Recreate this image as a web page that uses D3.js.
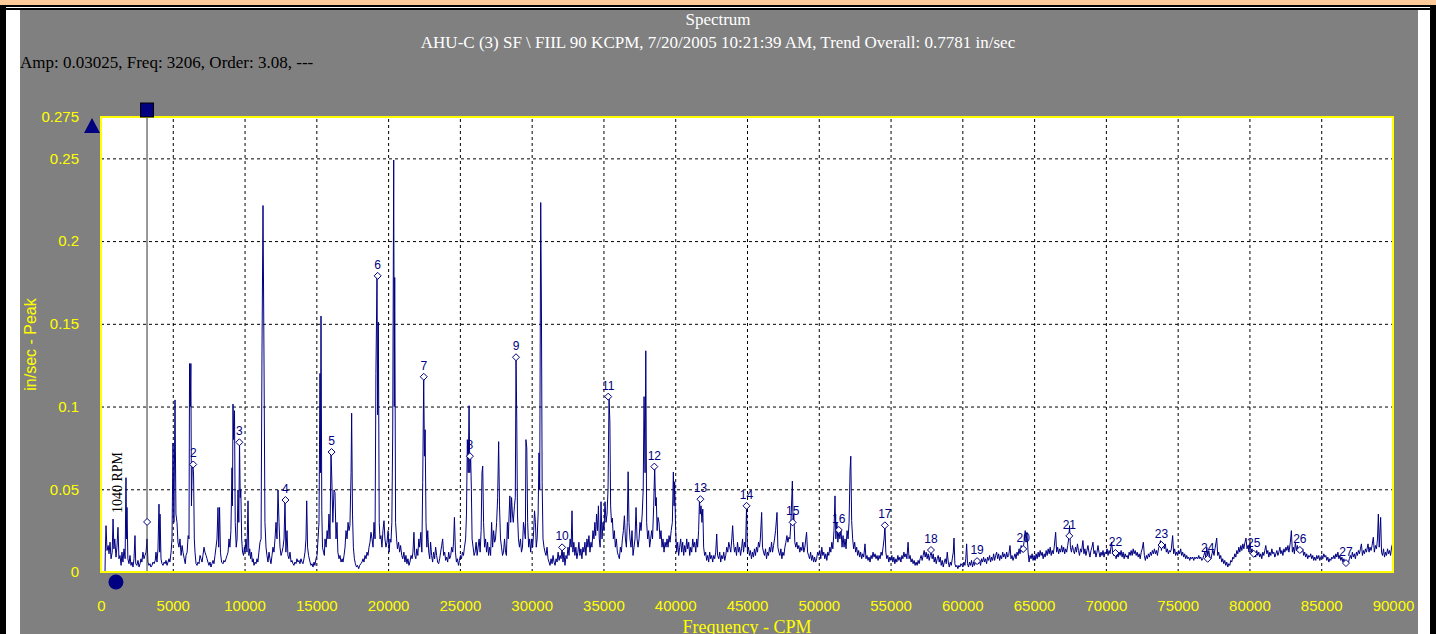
<!DOCTYPE html>
<html>
<head>
<meta charset="utf-8">
<script src="https://cdn.jsdelivr.net/npm/d3@7"></script>
<style>
  html, body { margin: 0; padding: 0; background: #fff; overflow: hidden; }
</style>
</head>
<body>
<div id="chart"></div>
<script>
const width = 1436;
const height = 634;
const plot = { left: 101, right: 1393, top: 117, bottom: 572 };

const sans = "'Liberation Sans', Arial, sans-serif";
const serif = "'Liberation Serif', 'Times New Roman', serif";
const navy = "#000080";
const yellow = "#ffff00";

// Texts
const titleText = "Spectrum";
const subtitleText = "AHU-C (3) SF \\ FIIL 90 KCPM, 7/20/2005 10:21:39 AM, Trend Overall: 0.7781 in/sec";
const cursorText = "Amp: 0.03025, Freq: 3206, Order: 3.08, ---";
const xTitle = "Frequency - CPM";
const yTitle = "in/sec - Peak";
const runSpeed = 1040; // CPM
const runSpeedLabel = "1040 RPM";
const cursorFreq = 3206;
const harmonicStep = 3212;

// Axes
const xTickValues = [0, 5000, 10000, 15000, 20000, 25000, 30000, 35000, 40000, 45000,
  50000, 55000, 60000, 65000, 70000, 75000, 80000, 85000, 90000];
const yTickValues = [0, 0.05, 0.1, 0.15, 0.2, 0.25, 0.275];
const yGridValues = [0.05, 0.1, 0.15, 0.2, 0.25];

// Amplitude at each harmonic cursor (order 1..27)
const harmonicAmps = [0.03025, 0.065, 0.0784, 0.0435, 0.0725, 0.179, 0.118, 0.070, 0.1298,
  0.0149, 0.106, 0.0637, 0.044, 0.040, 0.030, 0.0254, 0.0282, 0.0133, 0.0066, 0.0139,
  0.0218, 0.0115, 0.0163, 0.008, 0.011, 0.0133, 0.0054];

// Spectrum [CPM, in/sec]
const spec0to10k = [[0,0],[280,0],[300,0.012],[350,0.028],[420,0.013],[500,0.016],[560,0.011],[630,0.018],[700,0.008],[780,0.012],[840,0.032],[900,0.014],[960,0.02],[1045,0.009],[1110,0.015],[1184,0.027],[1250,0.008],[1324,0.01],[1400,0.004],[1460,0.012],[1530,0.006],[1600,0.014],[1680,0.008],[1741,0.057],[1780,0.02],[1811,0.039],[1870,0.008],[1950,0.005],[2020,0.01],[2090,0.004],[2160,0.006],[2229,0.003],[2300,0.008],[2368,0.022],[2420,0.005],[2500,0.004],[2577,0.007],[2650,0.003],[2720,0.005],[2786,0.008],[2850,0.006],[2920,0.012],[2995,0.008],[3060,0.01],[3140,0.012],[3206,0.02],[3270,0.006],[3340,0.004],[3413,0.005],[3480,0.003],[3550,0.004],[3622,0.006],[3700,0.005],[3780,0.007],[3831,0.012],[3900,0.006],[3970,0.014],[4040,0.041],[4090,0.012],[4110,0.035],[4180,0.008],[4250,0.005],[4319,0.004],[4400,0.006],[4470,0.005],[4528,0.007],[4600,0.004],[4670,0.006],[4737,0.008],[4800,0.006],[4880,0.012],[4946,0.02],
  [5015,0.078],[5080,0.03],[5155,0.104],[5220,0.035],[5294,0.03],[5360,0.018],[5430,0.015],[5503,0.02],[5580,0.01],[5650,0.016],[5712,0.012],[5800,0.008],[5870,0.005],[5921,0.01],[6000,0.012],[6070,0.022],[6130,0.02],[6170,0.126],[6220,0.1],[6260,0.126],[6300,0.04],[6350,0.062],[6409,0.065],[6450,0.058],[6500,0.02],[6548,0.012],[6620,0.005],[6690,0.004],[6757,0.006],[6830,0.005],[6900,0.01],[6966,0.008],[7040,0.006],[7100,0.01],[7175,0.015],[7240,0.012],[7320,0.01],[7384,0.008],[7450,0.006],[7520,0.004],[7593,0.006],[7660,0.003],[7730,0.005],[7802,0.007],[7870,0.005],[7940,0.01],[8011,0.015],[8080,0.02],[8150,0.039],[8200,0.015],[8260,0.039],[8320,0.012],[8400,0.006],[8499,0.005],[8560,0.007],[8630,0.006],[8708,0.008],[8780,0.01],[8850,0.012],[8916,0.02],[8980,0.015],[9050,0.025],[9125,0.063],[9160,0.04],[9195,0.1015],[9240,0.08],[9300,0.0975],[9350,0.03],[9420,0.015],[9480,0.02],[9543,0.0496],[9600,0.03],[9650,0.0786],[9700,0.045],[9740,0.0496],[9800,0.02],[9860,0.012],[9930,0.01],[9990,0.015]];

const spec10to20k = [[10031,0.012],[10100,0.02],[10170,0.012],[10240,0.043],[10300,0.01],[10360,0.014],[10420,0.008],[10480,0.012],[10540,0.006],[10600,0.008],[10658,0.004],[10730,0.006],[10800,0.005],[10867,0.008],[10930,0.006],[11000,0.012],[11076,0.018],[11150,0.02],[11215,0.133],[11285,0.2215],[11354,0.13],[11420,0.03],[11494,0.015],[11560,0.01],[11630,0.006],[11703,0.012],[11770,0.008],[11840,0.005],[11912,0.01],[11980,0.015],[12050,0.012],[12121,0.02],[12190,0.03],[12260,0.02],[12330,0.0496],[12400,0.03],[12469,0.015],[12540,0.01],[12608,0.012],[12680,0.015],[12750,0.02],[12817,0.0435],[12880,0.012],[12957,0.025],[13020,0.01],[13090,0.008],[13166,0.012],[13240,0.006],[13300,0.007],[13375,0.005],[13440,0.004],[13510,0.006],[13584,0.005],[13650,0.008],[13720,0.006],[13793,0.007],[13860,0.005],[13930,0.008],[14002,0.006],[14070,0.005],[14140,0.008],[14211,0.012],[14280,0.02],[14330,0.043],[14390,0.015],[14460,0.01],[14559,0.006],[14630,0.004],[14700,0.005],[14768,0.003],[14840,0.006],[14900,0.004],[14977,0.008],
  [15050,0.01],[15120,0.02],[15186,0.03],[15256,0.12],[15290,0.06],[15326,0.1547],[15380,0.037],[15430,0.015],[15500,0.012],[15560,0.01],[15604,0.02],[15680,0.015],[15750,0.025],[15813,0.02],[15880,0.035],[15950,0.02],[16022,0.0725],[16080,0.0556],[16150,0.03],[16230,0.0496],[16301,0.048],[16370,0.02],[16440,0.03],[16500,0.012],[16580,0.008],[16649,0.01],[16720,0.006],[16800,0.008],[16858,0.006],[16930,0.01],[17000,0.015],[17067,0.025],[17140,0.02],[17210,0.03],[17276,0.025],[17340,0.028],[17420,0.06],[17460,0.096],[17520,0.035],[17580,0.015],[17650,0.008],[17720,0.005],[17800,0.003],[17870,0.004],[17950,0.002],[18020,0.004],[18100,0.005],[18181,0.006],[18250,0.008],[18320,0.006],[18390,0.01],[18460,0.008],[18530,0.012],[18599,0.01],[18670,0.015],[18740,0.018],[18808,0.024],[18880,0.02],[18950,0.015],[19017,0.03],[19090,0.02],[19150,0.12],[19226,0.179],[19270,0.095],[19320,0.151],[19380,0.03],[19435,0.02],[19500,0.022],[19570,0.015],[19640,0.025],[19714,0.031],[19780,0.02],[19850,0.015],[19923,0.018]];

const spec20to30k = [[20000,0.025],[20070,0.012],[20132,0.02],[20200,0.018],[20260,0.03],[20320,0.084],[20390,0.249],[20430,0.1],[20460,0.178],[20520,0.03],[20590,0.02],[20650,0.014],[20730,0.018],[20800,0.012],[20870,0.016],[20950,0.01],[21020,0.008],[21100,0.012],[21170,0.006],[21240,0.01],[21310,0.005],[21380,0.008],[21450,0.004],[21520,0.006],[21600,0.01],[21670,0.008],[21730,0.012],[21800,0.024],[21860,0.01],[21930,0.008],[22000,0.014],[22070,0.01],[22140,0.02],[22200,0.015],[22280,0.024],[22350,0.012],[22410,0.054],[22480,0.118],[22530,0.07],[22580,0.086],[22640,0.03],[22700,0.015],[22760,0.025],[22830,0.012],[22900,0.008],[22960,0.018],[23030,0.01],[23100,0.006],[23170,0.012],[23240,0.008],[23310,0.015],[23380,0.01],[23450,0.006],[23520,0.005],[23590,0.008],[23660,0.012],[23730,0.016],[23800,0.02],[23870,0.01],[23940,0.012],[24010,0.007],[24080,0.009],[24150,0.006],[24220,0.012],[24290,0.008],[24360,0.01],[24430,0.015],[24500,0.012],[24560,0.018],[24620,0.033],[24690,0.012],[24760,0.006],[24830,0.008],[24900,0.004],[24970,0.007],
  [25040,0.01],[25110,0.008],[25180,0.012],[25250,0.01],[25320,0.015],[25400,0.02],[25460,0.035],[25520,0.08],[25580,0.06],[25640,0.1005],[25690,0.06],[25750,0.07],[25800,0.05],[25850,0.02],[25920,0.015],[25990,0.01],[26060,0.012],[26130,0.018],[26200,0.01],[26270,0.015],[26340,0.02],[26410,0.012],[26480,0.025],[26540,0.06],[26590,0.064],[26650,0.03],[26720,0.015],[26790,0.02],[26860,0.012],[26930,0.018],[27000,0.01],[27070,0.015],[27140,0.01],[27210,0.03],[27280,0.015],[27350,0.025],[27420,0.018],[27480,0.02],[27560,0.03],[27630,0.045],[27700,0.0788],[27760,0.04],[27830,0.02],[27900,0.015],[27970,0.01],[28040,0.012],[28110,0.02],[28180,0.012],[28240,0.01],[28310,0.03],[28370,0.02],[28430,0.035],[28480,0.046],[28540,0.03],[28600,0.045],[28660,0.035],[28720,0.03],[28800,0.04],[28860,0.045],[28910,0.1297],[28960,0.093],[29010,0.035],[29080,0.02],[29150,0.015],[29220,0.02],[29290,0.012],[29360,0.015],[29430,0.03],[29500,0.025],[29560,0.02],[29600,0.08],[29660,0.075],[29720,0.03],[29790,0.015],[29860,0.02],[29930,0.012]];

const spec30to40k = [[30000,0.02],[30070,0.015],[30140,0.025],[30200,0.037],[30260,0.03],[30320,0.015],[30380,0.02],[30450,0.035],[30510,0.072],[30560,0.05],[30630,0.2233],[30680,0.159],[30730,0.054],[30790,0.02],[30860,0.015],[30930,0.012],[31000,0.01],[31070,0.015],[31140,0.008],[31210,0.006],[31280,0.004],[31350,0.008],[31420,0.005],[31490,0.01],[31560,0.006],[31630,0.004],[31700,0.008],[31770,0.006],[31840,0.012],[31910,0.007],[31980,0.01],[32050,0.008],[32120,0.015],[32180,0.006],[32250,0.012],[32320,0.004],[32390,0.01],[32460,0.008],[32530,0.015],[32600,0.01],[32680,0.02],[32750,0.015],[32810,0.037],[32870,0.012],[32940,0.018],[33010,0.01],[33080,0.015],[33150,0.008],[33220,0.012],[33290,0.018],[33360,0.01],[33430,0.014],[33500,0.008],[33570,0.015],[33640,0.012],[33710,0.018],[33780,0.01],[33850,0.02],[33920,0.015],[33990,0.022],[34060,0.012],[34130,0.018],[34200,0.015],[34270,0.025],[34340,0.02],[34400,0.03],[34460,0.022],[34520,0.035],[34590,0.025],[34650,0.04],[34710,0.02],[34770,0.015],[34830,0.0425],[34900,0.02],[34970,0.03],
  [35040,0.025],[35110,0.0425],[35180,0.03],[35250,0.035],[35320,0.05],[35390,0.106],[35450,0.09],[35500,0.04],[35560,0.03],[35620,0.0326],[35690,0.02],[35760,0.025],[35830,0.015],[35900,0.02],[35970,0.012],[36040,0.01],[36110,0.008],[36180,0.015],[36250,0.012],[36320,0.02],[36390,0.025],[36460,0.034],[36530,0.02],[36600,0.015],[36660,0.03],[36720,0.0606],[36780,0.03],[36850,0.02],[36920,0.015],[36990,0.025],[37060,0.01],[37130,0.015],[37200,0.02],[37270,0.039],[37340,0.02],[37410,0.015],[37480,0.02],[37550,0.03],[37620,0.025],[37700,0.035],[37770,0.05],[37830,0.106],[37900,0.06],[37950,0.1337],[38010,0.03],[38080,0.02],[38150,0.025],[38220,0.015],[38290,0.02],[38360,0.025],[38420,0.02],[38500,0.04],[38570,0.0637],[38630,0.04],[38680,0.045],[38740,0.025],[38800,0.033],[38870,0.03],[38940,0.02],[39010,0.025],[39080,0.015],[39150,0.02],[39220,0.012],[39290,0.018],[39360,0.015],[39430,0.02],[39500,0.015],[39570,0.022],[39640,0.018],[39720,0.025],[39800,0.03],[39870,0.0604],[39920,0.04],[39960,0.0545]];

const spec40to50k = [[40030,0.025],[40100,0.012],[40170,0.018],[40240,0.01],[40310,0.015],[40380,0.02],[40450,0.012],[40520,0.018],[40590,0.01],[40660,0.016],[40730,0.012],[40800,0.02],[40870,0.014],[40940,0.018],[41010,0.01],[41080,0.015],[41150,0.012],[41220,0.02],[41290,0.015],[41360,0.018],[41430,0.012],[41500,0.02],[41560,0.015],[41630,0.025],[41690,0.044],[41740,0.035],[41800,0.04],[41860,0.03],[41920,0.038],[41980,0.015],[42050,0.01],[42120,0.012],[42190,0.007],[42260,0.01],[42330,0.006],[42400,0.012],[42470,0.008],[42540,0.01],[42610,0.006],[42680,0.01],[42750,0.008],[42820,0.012],[42890,0.023],[42950,0.01],[43030,0.008],[43100,0.012],[43170,0.006],[43240,0.01],[43310,0.008],[43380,0.012],[43450,0.007],[43520,0.01],[43590,0.015],[43660,0.012],[43730,0.018],[43800,0.015],[43870,0.012],[43940,0.02],[44000,0.028],[44060,0.018],[44130,0.012],[44200,0.015],[44270,0.01],[44340,0.018],[44410,0.012],[44480,0.015],[44550,0.01],[44620,0.014],[44690,0.02],[44760,0.012],[44830,0.018],[44900,0.015],[44970,0.04],
  [45030,0.012],[45100,0.015],[45170,0.01],[45240,0.013],[45310,0.008],[45380,0.012],[45450,0.009],[45520,0.014],[45590,0.01],[45660,0.015],[45730,0.012],[45800,0.018],[45870,0.015],[45930,0.02],[46020,0.036],[46080,0.015],[46150,0.012],[46220,0.01],[46290,0.014],[46360,0.008],[46430,0.012],[46500,0.01],[46570,0.015],[46640,0.012],[46710,0.018],[46780,0.012],[46850,0.016],[46920,0.02],[46990,0.025],[47090,0.036],[47150,0.015],[47220,0.012],[47290,0.01],[47360,0.014],[47430,0.008],[47500,0.012],[47570,0.01],[47640,0.015],[47710,0.018],[47780,0.022],[47850,0.018],[47920,0.021],[47990,0.02],[48060,0.03],[48160,0.055],[48210,0.03],[48260,0.035],[48330,0.018],[48400,0.015],[48470,0.018],[48540,0.014],[48610,0.016],[48680,0.012],[48750,0.015],[48820,0.013],[48890,0.018],[48960,0.012],[49030,0.015],[49150,0.024],[49220,0.012],[49290,0.01],[49360,0.008],[49430,0.012],[49500,0.007],[49570,0.01],[49640,0.006],[49710,0.009],[49780,0.006],[49850,0.008],[49920,0.012]];

const spec50to60k = [[50000,0.01],[50070,0.013],[50140,0.008],[50210,0.015],[50280,0.01],[50350,0.012],[50420,0.008],[50490,0.011],[50560,0.007],[50630,0.012],[50700,0.01],[50770,0.015],[50840,0.012],[50910,0.018],[50980,0.014],[51060,0.025],[51130,0.046],[51190,0.02],[51260,0.03],[51330,0.018],[51400,0.025],[51470,0.02],[51550,0.0254],[51620,0.015],[51690,0.022],[51760,0.015],[51830,0.02],[51900,0.014],[51970,0.025],[52040,0.02],[52110,0.03],[52180,0.0616],[52230,0.07],[52290,0.031],[52360,0.02],[52430,0.014],[52500,0.018],[52570,0.012],[52640,0.015],[52710,0.01],[52780,0.013],[52850,0.009],[52920,0.012],[52990,0.008],[53060,0.011],[53130,0.009],[53220,0.017],[53290,0.008],[53360,0.01],[53430,0.007],[53500,0.009],[53570,0.006],[53640,0.01],[53710,0.008],[53780,0.012],[53850,0.009],[53920,0.011],[53990,0.008],[54060,0.01],[54130,0.007],[54200,0.01],[54270,0.008],[54340,0.012],[54410,0.01],[54480,0.015],[54550,0.02],[54610,0.028],[54670,0.012],[54740,0.008],[54810,0.01],[54880,0.006],[54950,0.009],
  [55020,0.007],[55090,0.01],[55160,0.006],[55230,0.009],[55300,0.005],[55370,0.008],[55440,0.006],[55510,0.01],[55580,0.007],[55650,0.009],[55720,0.006],[55790,0.01],[55860,0.008],[55930,0.012],[56000,0.009],[56070,0.011],[56140,0.008],[56220,0.018],[56290,0.008],[56360,0.01],[56430,0.006],[56500,0.008],[56570,0.005],[56640,0.007],[56710,0.004],[56780,0.006],[56850,0.004],[56920,0.007],[56990,0.005],[57060,0.008],[57130,0.01],[57200,0.007],[57270,0.01],[57340,0.013],[57410,0.009],[57480,0.012],[57550,0.008],[57620,0.011],[57690,0.007],[57760,0.01],[57830,0.012],[57900,0.008],[57970,0.011],[58040,0.006],[58110,0.009],[58180,0.005],[58250,0.008],[58320,0.01],[58390,0.006],[58460,0.009],[58530,0.004],[58600,0.007],[58670,0.003],[58740,0.006],[58810,0.008],[58880,0.005],[58950,0.012],[59020,0.006],[59090,0.003],[59160,0.006],[59230,0.004],[59300,0.008],[59370,0.012],[59420,0.0205],[59480,0.005],[59550,0.003],[59620,0.004],[59690,0.002],[59760,0.004],[59830,0.003],[59900,0.005],[59970,0.004]];

const spec60to70k = [[60040,0.003],[60110,0.006],[60180,0.004],[60240,0.008],[60300,0.017],[60360,0.005],[60430,0.003],[60500,0.006],[60570,0.004],[60640,0.007],[60710,0.003],[60780,0.006],[60850,0.004],[60920,0.007],[60990,0.005],[61060,0.008],[61130,0.005],[61200,0.007],[61270,0.004],[61340,0.008],[61410,0.006],[61480,0.009],[61550,0.006],[61620,0.008],[61690,0.005],[61760,0.009],[61830,0.007],[61900,0.01],[61970,0.006],[62040,0.009],[62110,0.007],[62180,0.011],[62250,0.007],[62320,0.01],[62390,0.012],[62460,0.008],[62530,0.011],[62600,0.007],[62670,0.01],[62740,0.008],[62810,0.012],[62880,0.009],[62950,0.011],[63020,0.008],[63090,0.012],[63160,0.009],[63230,0.01],[63320,0.016],[63390,0.008],[63460,0.01],[63530,0.007],[63600,0.009],[63670,0.011],[63740,0.008],[63810,0.012],[63880,0.01],[63950,0.014],[64020,0.011],[64100,0.016],[64170,0.012],[64240,0.0139],[64320,0.02],[64380,0.025],[64440,0.018],[64500,0.024],[64580,0.012],[64650,0.006],[64720,0.01],[64790,0.008],[64860,0.011],[64930,0.007],
  [65000,0.01],[65070,0.007],[65140,0.011],[65210,0.008],[65280,0.012],[65350,0.009],[65420,0.013],[65490,0.01],[65560,0.012],[65630,0.008],[65700,0.011],[65770,0.009],[65840,0.013],[65910,0.01],[65980,0.014],[66050,0.011],[66120,0.015],[66190,0.01],[66260,0.013],[66330,0.011],[66400,0.015],[66500,0.024],[66570,0.012],[66640,0.015],[66710,0.011],[66780,0.014],[66850,0.012],[66920,0.016],[66990,0.012],[67060,0.015],[67130,0.011],[67200,0.014],[67270,0.012],[67340,0.016],[67410,0.02],[67470,0.028],[67530,0.015],[67600,0.012],[67670,0.016],[67740,0.013],[67810,0.011],[67880,0.015],[67950,0.012],[68020,0.017],[68090,0.013],[68160,0.01],[68230,0.014],[68300,0.012],[68400,0.019],[68470,0.011],[68540,0.014],[68610,0.01],[68680,0.013],[68750,0.016],[68820,0.012],[68890,0.009],[68960,0.013],[69030,0.015],[69100,0.018],[69170,0.011],[69240,0.013],[69310,0.009],[69380,0.012],[69450,0.016],[69520,0.012],[69590,0.009],[69660,0.012],[69730,0.01],[69800,0.013],[69870,0.009],[69940,0.012]];

const spec70to80k = [[70010,0.011],[70080,0.014],[70150,0.01],[70220,0.013],[70290,0.011],[70400,0.018],[70470,0.012],[70540,0.01],[70640,0.0115],[70710,0.008],[70780,0.011],[70850,0.009],[70920,0.012],[70990,0.01],[71060,0.013],[71130,0.009],[71200,0.012],[71270,0.008],[71340,0.011],[71410,0.009],[71480,0.01],[71550,0.008],[71620,0.012],[71690,0.01],[71760,0.013],[71830,0.01],[71900,0.014],[71970,0.011],[72040,0.013],[72110,0.01],[72180,0.012],[72250,0.009],[72320,0.011],[72390,0.008],[72460,0.012],[72530,0.014],[72610,0.018],[72680,0.01],[72750,0.007],[72820,0.01],[72890,0.008],[72960,0.011],[73030,0.009],[73100,0.012],[73170,0.01],[73240,0.013],[73310,0.011],[73380,0.014],[73450,0.011],[73520,0.013],[73590,0.01],[73660,0.014],[73730,0.016],[73800,0.019],[73870,0.013],[73940,0.018],[74000,0.0163],[74070,0.014],[74140,0.017],[74210,0.012],[74280,0.014],[74350,0.011],[74420,0.013],[74490,0.012],[74560,0.014],[74650,0.022],[74720,0.011],[74790,0.014],[74860,0.01],[74930,0.012],
  [75000,0.01],[75070,0.013],[75140,0.011],[75210,0.014],[75280,0.01],[75350,0.012],[75420,0.009],[75490,0.011],[75560,0.008],[75630,0.01],[75700,0.008],[75770,0.009],[75840,0.007],[75910,0.009],[75980,0.008],[76050,0.009],[76120,0.007],[76190,0.009],[76260,0.008],[76330,0.009],[76400,0.008],[76470,0.01],[76540,0.008],[76610,0.009],[76680,0.007],[76750,0.008],[76820,0.01],[76890,0.012],[76960,0.009],[77030,0.015],[77100,0.01],[77170,0.013],[77240,0.009],[77320,0.008],[77390,0.011],[77460,0.013],[77530,0.01],[77600,0.014],[77720,0.0205],[77790,0.01],[77860,0.012],[77930,0.008],[78000,0.01],[78070,0.006],[78140,0.008],[78210,0.005],[78280,0.007],[78350,0.004],[78420,0.006],[78490,0.003],[78560,0.005],[78630,0.004],[78700,0.007],[78770,0.006],[78840,0.009],[78910,0.008],[78980,0.011],[79050,0.009],[79120,0.013],[79190,0.011],[79260,0.015],[79330,0.012],[79400,0.016],[79470,0.013],[79540,0.017],[79610,0.014],[79690,0.018],[79760,0.0205],[79830,0.014],[79900,0.016],[79970,0.012]];

const spec80to90k = [[80040,0.018],[80110,0.012],[80180,0.014],[80250,0.01],[80370,0.011],[80440,0.009],[80510,0.013],[80580,0.01],[80650,0.012],[80720,0.009],[80790,0.011],[80860,0.008],[80930,0.012],[81000,0.01],[81070,0.013],[81140,0.016],[81210,0.011],[81280,0.013],[81350,0.009],[81420,0.012],[81490,0.01],[81560,0.014],[81630,0.011],[81700,0.012],[81770,0.009],[81840,0.011],[81910,0.013],[81980,0.01],[82050,0.012],[82120,0.015],[82190,0.011],[82260,0.013],[82330,0.01],[82400,0.014],[82470,0.012],[82540,0.015],[82610,0.013],[82680,0.016],[82750,0.012],[82850,0.018],[82920,0.025],[82990,0.012],[83060,0.015],[83130,0.011],[83200,0.018],[83270,0.013],[83340,0.016],[83410,0.012],[83490,0.015],[83570,0.0133],[83640,0.012],[83710,0.014],[83780,0.01],[83850,0.012],[83920,0.009],[83990,0.011],[84060,0.008],[84130,0.01],[84200,0.009],[84270,0.011],[84340,0.008],[84410,0.01],[84480,0.007],[84550,0.009],[84620,0.007],[84690,0.01],[84760,0.008],[84830,0.01],[84900,0.007],[84970,0.009],
  [85040,0.01],[85110,0.008],[85180,0.011],[85250,0.009],[85320,0.01],[85390,0.007],[85460,0.009],[85530,0.006],[85600,0.008],[85670,0.007],[85740,0.009],[85810,0.008],[85880,0.01],[85950,0.008],[86020,0.011],[86090,0.009],[86160,0.012],[86230,0.008],[86300,0.01],[86370,0.007],[86440,0.009],[86510,0.006],[86580,0.008],[86650,0.005],[86720,0.007],[86800,0.005],[86890,0.0054],[86960,0.008],[87030,0.01],[87100,0.008],[87170,0.012],[87240,0.009],[87310,0.011],[87380,0.008],[87450,0.012],[87520,0.01],[87590,0.013],[87660,0.011],[87730,0.014],[87800,0.017],[87870,0.01],[87940,0.013],[88010,0.011],[88080,0.014],[88150,0.012],[88260,0.017],[88330,0.012],[88400,0.015],[88470,0.013],[88540,0.016],[88630,0.021],[88700,0.012],[88780,0.016],[88850,0.014],[88920,0.02],[88980,0.035],[89040,0.015],[89140,0.033],[89200,0.012],[89270,0.01],[89340,0.014],[89410,0.009],[89480,0.012],[89550,0.01],[89620,0.014],[89690,0.011],[89760,0.013],[89830,0.01],[89900,0.015],[89970,0.017]];

const spectrum = [].concat(spec0to10k, spec10to20k, spec20to30k, spec30to40k,
  spec40to50k, spec50to60k, spec60to70k, spec70to80k, spec80to90k);

const harmonics = harmonicAmps.map((amp, i) => ({ order: i + 1, freq: (i + 1) * harmonicStep, amp: amp }));

// Scales
const x = d3.scaleLinear().domain([0, 90000]).range([plot.left, plot.right]);
const y = d3.scaleLinear().domain([0, 0.275]).range([plot.bottom, plot.top]);

const svg = d3.select("#chart")
  .append("svg")
  .attr("width", width)
  .attr("height", height);

// Window frame
svg.append("rect").attr("x", 0).attr("y", 0).attr("width", width).attr("height", height).attr("fill", "#fff");
svg.append("rect").attr("x", 0).attr("y", 0).attr("width", width).attr("height", 5).attr("fill", "#ffcc99");
svg.append("rect").attr("x", 0).attr("y", 5).attr("width", width).attr("height", 2).attr("fill", "#000");
svg.append("rect").attr("x", 0).attr("y", 8).attr("width", width).attr("height", 2).attr("fill", "#000");
svg.append("rect").attr("x", 0).attr("y", 5).attr("width", 6).attr("height", height - 5).attr("fill", "#000");
svg.append("rect").attr("x", 1430).attr("y", 5).attr("width", 6).attr("height", height - 5).attr("fill", "#000");
svg.append("rect").attr("x", 20).attr("y", 10).attr("width", 1398).attr("height", height - 10).attr("fill", "#808080");

// Plot background
svg.append("rect")
  .attr("x", plot.left).attr("y", plot.top)
  .attr("width", plot.right - plot.left).attr("height", plot.bottom - plot.top)
  .attr("fill", "#fff");

// Dashed grid
svg.append("g")
  .attr("transform", `translate(0,${plot.bottom})`)
  .call(d3.axisBottom(x).tickValues(xTickValues.slice(1, -1)).tickSize(-(plot.bottom - plot.top)).tickFormat(""))
  .call(g => g.select(".domain").remove())
  .selectAll("line")
  .attr("stroke", "#000")
  .attr("stroke-dasharray", "3,3");

svg.append("g")
  .attr("transform", `translate(${plot.left},0)`)
  .call(d3.axisLeft(y).tickValues(yGridValues).tickSize(-(plot.right - plot.left)).tickFormat(""))
  .call(g => g.select(".domain").remove())
  .selectAll("line")
  .attr("stroke", "#000")
  .attr("stroke-dasharray", "3,3");

// Spectrum line
svg.append("clipPath").attr("id", "plot-clip")
  .append("rect")
  .attr("x", plot.left).attr("y", plot.top)
  .attr("width", plot.right - plot.left).attr("height", plot.bottom - plot.top);

const line = d3.line()
  .x(d => x(d[0]))
  .y(d => y(d[1]));

svg.append("path")
  .datum(spectrum)
  .attr("clip-path", "url(#plot-clip)")
  .attr("d", line)
  .attr("fill", "none")
  .attr("stroke", navy)
  .attr("stroke-width", 1);

// Cursor line
svg.append("line")
  .attr("x1", x(cursorFreq)).attr("x2", x(cursorFreq))
  .attr("y1", plot.top - 1).attr("y2", plot.bottom)
  .attr("stroke", "#333")
  .attr("stroke-width", 1);

// Harmonic markers
const diamond = "M0,-3.5L3.5,0L0,3.5L-3.5,0Z";
svg.append("g")
  .selectAll("path")
  .data(harmonics)
  .join("path")
  .attr("transform", d => `translate(${x(d.freq)},${y(d.amp)})`)
  .attr("d", diamond)
  .attr("fill", "#fff")
  .attr("stroke", navy)
  .attr("stroke-width", 1);

svg.append("g")
  .selectAll("text")
  .data(harmonics.filter(d => d.order > 1))
  .join("text")
  .attr("x", d => x(d.freq))
  .attr("y", d => y(d.amp) - 7)
  .attr("text-anchor", "middle")
  .attr("font-family", sans)
  .attr("font-size", 12)
  .attr("fill", navy)
  .text(d => d.order);

// Plot border
svg.append("rect")
  .attr("x", plot.left).attr("y", plot.top)
  .attr("width", plot.right - plot.left).attr("height", plot.bottom - plot.top)
  .attr("fill", "none")
  .attr("stroke", yellow)
  .attr("stroke-width", 2);

// Axes
svg.append("g")
  .attr("transform", `translate(0,${plot.bottom})`)
  .call(d3.axisBottom(x).tickValues(xTickValues).tickSize(0).tickPadding(28).tickFormat(d3.format("d")))
  .call(g => g.select(".domain").remove())
  .selectAll("text")
  .attr("fill", yellow)
  .attr("font-family", sans)
  .attr("font-size", 15);

svg.append("g")
  .attr("transform", `translate(${plot.left},0)`)
  .call(d3.axisLeft(y).tickValues(yTickValues).tickSize(0).tickPadding(22).tickFormat(d => String(d)))
  .call(g => g.select(".domain").remove())
  .selectAll("text")
  .attr("fill", yellow)
  .attr("font-family", sans)
  .attr("font-size", 15);

// Axis titles
svg.append("text")
  .attr("x", (plot.left + plot.right) / 2)
  .attr("y", 633)
  .attr("text-anchor", "middle")
  .attr("font-family", serif)
  .attr("font-size", 18)
  .attr("fill", yellow)
  .text(xTitle);

svg.append("text")
  .attr("transform", `translate(36,${(plot.top + plot.bottom) / 2}) rotate(-90)`)
  .attr("text-anchor", "middle")
  .attr("font-family", sans)
  .attr("font-size", 16)
  .attr("fill", yellow)
  .text(yTitle);

// Titles
svg.append("text")
  .attr("x", 718).attr("y", 25)
  .attr("text-anchor", "middle")
  .attr("font-family", serif).attr("font-size", 17)
  .attr("fill", "#fff")
  .text(titleText);

svg.append("text")
  .attr("x", 718).attr("y", 48)
  .attr("text-anchor", "middle")
  .attr("font-family", serif).attr("font-size", 17)
  .attr("fill", "#fff")
  .text(subtitleText);

svg.append("text")
  .attr("x", 20).attr("y", 68)
  .attr("font-family", serif).attr("font-size", 17)
  .attr("fill", "#000")
  .text(cursorText);

// Cursor handle, scale marker, running speed marker
svg.append("rect")
  .attr("x", x(cursorFreq) - 6.5).attr("y", 103)
  .attr("width", 13).attr("height", 14)
  .attr("fill", navy)
  .attr("stroke", "#000");

svg.append("path")
  .attr("d", `M92,${plot.top + 1}L100,${plot.top + 16}L84,${plot.top + 16}Z`)
  .attr("fill", navy);

svg.append("circle")
  .attr("cx", x(runSpeed)).attr("cy", plot.bottom + 10)
  .attr("r", 7.5)
  .attr("fill", navy);

svg.append("text")
  .attr("transform", `translate(${x(runSpeed) + 6},513) rotate(-90)`)
  .attr("font-family", serif)
  .attr("font-size", 14)
  .attr("fill", "#000")
  .text(runSpeedLabel);
</script>
</body>
</html>
